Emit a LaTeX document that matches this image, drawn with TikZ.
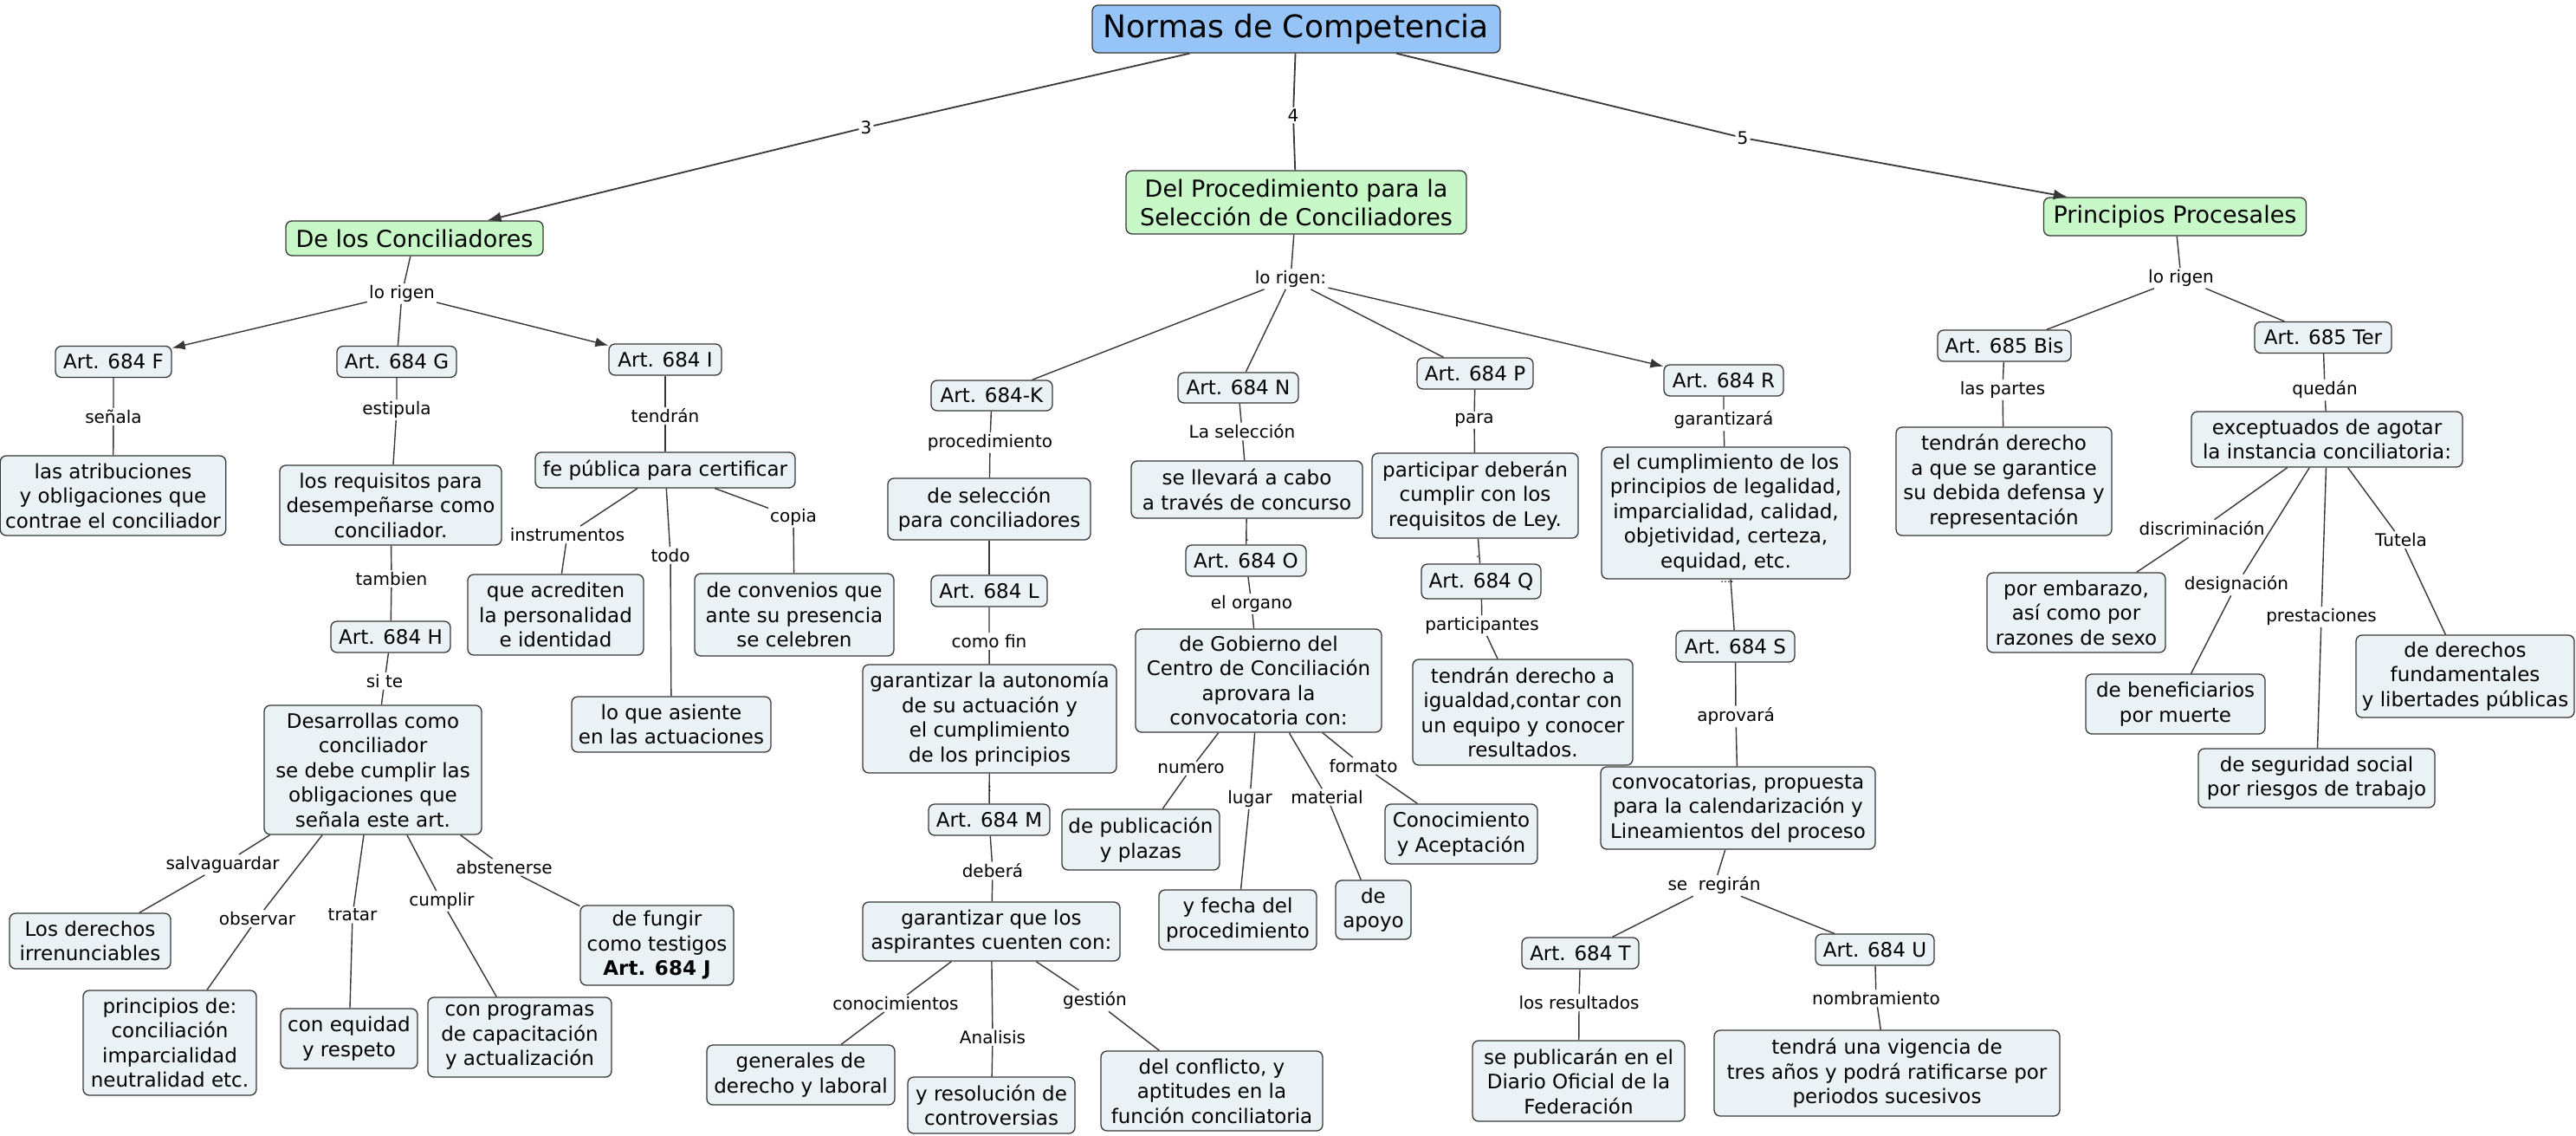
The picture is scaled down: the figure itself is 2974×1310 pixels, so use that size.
\documentclass[tikz,border=0pt]{standalone}
\usepackage{fontspec}
\setmainfont{DejaVu Sans}
\usetikzlibrary{arrows.meta}
\definecolor{cfill}{RGB}{234,242,245}
\definecolor{gfill}{RGB}{200,248,200}
\definecolor{tfill}{RGB}{150,196,246}
\definecolor{edgec}{RGB}{55,55,55}
\newcommand\cmBox{\fontsize{23}{28.5}\selectfont}
\newcommand\cmLvl{\fontsize{27}{33}\selectfont}
\newcommand\cmTtl{\fontsize{36}{42}\selectfont}
\newcommand\cmLbl{\fontsize{20}{24}\selectfont}
\begin{document}
\begin{tikzpicture}[x=1pt,y=-1pt,
 cbox/.style={draw=edgec, fill=cfill, rounded corners=7pt, line width=1.3pt, align=center, font=\cmBox, inner xsep=6pt, inner ysep=6pt},
 gbox/.style={cbox, fill=gfill, font=\cmLvl},
 tbox/.style={cbox, fill=tfill, font=\cmTtl},
 lbl/.style={font=\cmLbl, inner sep=2pt},
 dotl/.style={font=\fontsize{12}{12}\selectfont, inner sep=0pt},
 con/.style={draw=edgec, line width=1.4pt},
 tcon/.style={draw=edgec, line width=1.8pt},
 arr/.style={con, -{Latex[length=15pt,width=11pt]}},
 tarr/.style={tcon, -{Latex[length=16pt,width=12pt]}}]
\fill[white] (0,0) rectangle (2974,1310);
\useasboundingbox (0,0) rectangle (2974,1310);

% title and level 1
\node[tbox, minimum width=471pt, minimum height=55pt] (T) at (1496.5,33.5) {Normas de Competencia};
\node[gbox, minimum width=297pt, minimum height=40pt] (dlc) at (478.5,275) {De los Conciliadores};
\node[gbox, minimum width=393pt, minimum height=73pt] (dps) at (1496.5,233.5) {Del Procedimiento para la\\Selección de Conciliadores};
\node[gbox, minimum width=303pt, minimum height=44pt] (pp) at (2511,250) {Principios Procesales};
\node[lbl] (l3) at (1000,147) {3};
\node[lbl] (l4) at (1493,133) {4};
\node[lbl] (l5) at (2012,159) {5};

% left branch
\node[lbl] (rig1) at (464,339) {lo rigen};
\node[cbox, minimum width=134pt, minimum height=36pt] (aF) at (131,417.5) {Art. 684 F};
\node[cbox, minimum width=138pt, minimum height=36pt] (aG) at (458,417.5) {Art. 684 G};
\node[cbox, minimum width=130pt, minimum height=36pt] (aI) at (768,415) {Art. 684 I};
\node[lbl] (senala) at (131,481) {señala};
\node[cbox, minimum width=260pt, minimum height=92pt] (atrib) at (130.5,572) {las atribuciones\\y obligaciones que\\contrae el conciliador};
\node[lbl] (estip) at (458,473) {estipula};
\node[cbox, minimum width=256pt, minimum height=92pt] (req) at (451,583) {los requisitos para\\desempeñarse como\\conciliador.};
\node[lbl] (tamb) at (452,668) {tambien};
\node[cbox, minimum width=138pt, minimum height=36pt] (aH) at (451,735) {Art. 684 H};
\node[lbl] (site) at (444,786) {si te};
\node[cbox, minimum width=251pt, minimum height=149pt] (des) at (430.5,888.5) {Desarrollas como\\conciliador\\se debe cumplir las\\obligaciones que\\señala este art.};
\node[lbl] (salv) at (257,998) {salvaguardar};
\node[cbox, minimum width=186pt, minimum height=64pt] (lder) at (104,1086) {Los derechos\\irrenunciables};
\node[lbl] (obs) at (297,1060) {observar};
\node[cbox, minimum width=200pt, minimum height=121pt] (princ) at (196,1203.5) {principios de:\\conciliación\\imparcialidad\\neutralidad etc.};
\node[lbl] (trat) at (407,1056) {tratar};
\node[cbox, minimum width=158pt, minimum height=69pt] (equi) at (403,1198.5) {con equidad\\y respeto};
\node[lbl] (cump) at (510,1040) {cumplir};
\node[cbox, minimum width=212pt, minimum height=92pt] (prog) at (600,1197) {con programas\\de capacitación\\y actualización};
\node[lbl] (abst) at (582,1001) {abstenerse};
\node[cbox, minimum width=177pt, minimum height=92pt] (fung) at (758.5,1091) {de fungir\\como testigos\\\textbf{Art. 684 J}};
\node[lbl] (tendran) at (768,480) {tendrán};
\node[cbox, minimum width=300pt, minimum height=41pt] (fe) at (768,542.5) {fe pública para certificar};
\node[lbl] (instr) at (655,617) {instrumentos};
\node[cbox, minimum width=203pt, minimum height=93pt] (acred) at (641.5,709.5) {que acrediten\\la personalidad\\e identidad};
\node[lbl] (todo) at (774,641) {todo};
\node[cbox, minimum width=230pt, minimum height=64pt] (asiente) at (775,836) {lo que asiente\\en las actuaciones};
\node[lbl] (copia) at (916,597) {copia};
\node[cbox, minimum width=230pt, minimum height=95pt] (conv) at (917,709.5) {de convenios que\\ante su presencia\\se celebren};

% middle branch
\node[lbl] (rig2) at (1490,322) {lo rigen:};
\node[cbox, minimum width=140pt, minimum height=35pt] (aK) at (1145,456.5) {Art. 684-K};
\node[lbl] (proc) at (1143,511) {procedimiento};
\node[cbox, minimum width=234pt, minimum height=71pt] (sel) at (1142,587.5) {de selección\\para conciliadores};
\node[cbox, minimum width=134pt, minimum height=36pt] (aL) at (1142,682) {Art. 684 L};
\node[lbl] (comofin) at (1142,740) {como fin};
\node[cbox, minimum width=293pt, minimum height=125pt] (gauto) at (1142.5,829.5) {garantizar la autonomía\\de su actuación y\\el cumplimiento\\de los principios};
\node[cbox, minimum width=140pt, minimum height=36pt] (aM) at (1142,946) {Art. 684 M};
\node[lbl] (debera) at (1146,1005) {deberá};
\node[cbox, minimum width=297pt, minimum height=68pt] (gasp) at (1144.5,1075) {garantizar que los\\aspirantes cuenten con:};
\node[lbl] (conoc) at (1034,1158) {conocimientos};
\node[cbox, minimum width=217pt, minimum height=69pt] (gen) at (924.5,1240.5) {generales de\\derecho y laboral};
\node[lbl] (anal) at (1146,1197) {Analisis};
\node[cbox, minimum width=193pt, minimum height=65pt] (resol) at (1144.5,1275.5) {y resolución de\\controversias};
\node[lbl] (gest) at (1264,1155) {gestión};
\node[cbox, minimum width=256pt, minimum height=92pt] (confl) at (1399,1259) {del conflicto, y\\aptitudes en la\\función conciliatoria};

\node[cbox, minimum width=139pt, minimum height=35pt] (aN) at (1429.5,447.5) {Art. 684 N};
\node[lbl] (lasel) at (1434,498) {La selección};
\node[cbox, minimum width=267pt, minimum height=66pt] (llev) at (1439.5,565) {se llevará a cabo\\a través de concurso};
\node[cbox, minimum width=139pt, minimum height=36pt] (aO) at (1438.5,647) {Art. 684 O};
\node[lbl] (organo) at (1445,697) {el organo};
\node[cbox, minimum width=284pt, minimum height=119pt] (gob) at (1453,785.5) {de Gobierno del\\Centro de Conciliación\\aprovara la\\convocatoria con:};
\node[lbl] (numero) at (1375,887) {numero};
\node[cbox, minimum width=182pt, minimum height=70pt] (publ) at (1317,969) {de publicación\\y plazas};
\node[lbl] (lugar) at (1443,922) {lugar};
\node[cbox, minimum width=182pt, minimum height=69pt] (fecha) at (1429,1061.5) {y fecha del\\procedimiento};
\node[lbl] (material) at (1532,920) {material};
\node[cbox, minimum width=87pt, minimum height=68pt] (apoyo) at (1585.5,1050) {de\\apoyo};
\node[lbl] (formato) at (1574,884) {formato};
\node[cbox, minimum width=176pt, minimum height=69pt] (acept) at (1687,962.5) {Conocimiento\\y Aceptación};

\node[cbox, minimum width=134pt, minimum height=36pt] (aP) at (1703,431) {Art. 684 P};
\node[lbl] (para) at (1702,485) {para};
\node[cbox, minimum width=238pt, minimum height=98pt] (part) at (1703,572) {participar deberán\\cumplir con los\\requisitos de Ley.};
\node[cbox, minimum width=138pt, minimum height=40pt] (aQ) at (1710,671) {Art. 684 Q};
\node[lbl] (partic) at (1711,722) {participantes};
\node[cbox, minimum width=254pt, minimum height=122pt] (tder) at (1758,822) {tendrán derecho a\\igualdad,contar con\\un equipo y conocer\\resultados.};

\node[cbox, minimum width=138pt, minimum height=36pt] (aR) at (1990,439) {Art. 684 R};
\node[lbl] (garant) at (1990,485) {garantizará};
\node[cbox, minimum width=287pt, minimum height=152pt] (cumpl) at (1992.5,592) {el cumplimiento de los\\principios de legalidad,\\imparcialidad, calidad,\\objetividad, certeza,\\equidad, etc.};
\node[cbox, minimum width=137pt, minimum height=36pt] (aS) at (2003.5,746) {Art. 684 S};
\node[lbl] (aprov) at (2004,827) {aprovará};
\node[cbox, minimum width=317pt, minimum height=95pt] (convoc) at (2006.5,932.5) {convocatorias, propuesta\\para la calendarización y\\Lineamientos del proceso};
\node[lbl] (regir) at (1979,1022) {se~~regirán};
\node[cbox, minimum width=135pt, minimum height=36pt] (aT) at (1824.5,1100) {Art. 684 T};
\node[lbl] (losres) at (1823,1157) {los resultados};
\node[cbox, minimum width=245pt, minimum height=93pt] (publica) at (1822.5,1247.5) {se publicarán en el\\Diario Oficial de la\\Federación};
\node[cbox, minimum width=137pt, minimum height=36pt] (aU) at (2164.5,1096) {Art. 684 U};
\node[lbl] (nomb) at (2166,1152) {nombramiento};
\node[cbox, minimum width=399pt, minimum height=99pt] (vig) at (2178.5,1238.5) {tendrá una vigencia de\\tres años y podrá ratificarse por\\periodos sucesivos};

% right branch
\node[lbl] (rig3) at (2518,321) {lo rigen};
\node[cbox, minimum width=154pt, minimum height=36pt] (aBis) at (2314,399) {Art. 685 Bis};
\node[lbl] (partes) at (2312,450) {las partes};
\node[cbox, minimum width=249pt, minimum height=125pt] (tdef) at (2313.5,555.5) {tendrán derecho\\a que se garantice\\su debida defensa y\\representación};
\node[cbox, minimum width=158pt, minimum height=36pt] (aTer) at (2682,389.5) {Art. 685 Ter};
\node[lbl] (quedan) at (2684,450) {quedán};
\node[cbox, minimum width=313pt, minimum height=64pt] (excep) at (2686.5,507) {exceptuados de agotar\\la instancia conciliatoria:};
\node[lbl] (discr) at (2542,610) {discriminación};
\node[cbox, minimum width=206pt, minimum height=92pt] (emb) at (2397,707) {por embarazo,\\así como por\\razones de sexo};
\node[lbl] (desig) at (2582,675) {designación};
\node[cbox, minimum width=207pt, minimum height=69pt] (benef) at (2511.5,812.5) {de beneficiarios\\por muerte};
\node[lbl] (prest) at (2680,712) {prestaciones};
\node[cbox, minimum width=273pt, minimum height=68pt] (segur) at (2674.5,898) {de seguridad social\\por riesgos de trabajo};
\node[lbl] (tutela) at (2772,623) {Tutela};
\node[cbox, minimum width=252pt, minimum height=95pt] (fund) at (2846,780.5) {de derechos\\fundamentales\\y libertades públicas};

% connectors
\draw[tcon] (T) -- (l3); \draw[tarr] (l3) -- (dlc);
\draw[tcon] (T) -- (l4) -- (dps);
\draw[tcon] (T) -- (l5); \draw[tarr] (l5) -- (pp);

\draw[con] (dlc) -- (rig1) -- (aG);
\draw[arr] (rig1) -- (aF);
\draw[arr] (rig1) -- (aI);
\draw[con] (aF) -- (senala) -- (atrib);
\draw[con] (aG) -- (estip) -- (req);
\draw[con] (req) -- (tamb) -- (aH);
\draw[con] (aH) -- (site) -- (des);
\draw[con] (des) -- (salv) -- (lder);
\draw[con] (des) -- (obs) -- (princ);
\draw[con] (des) -- (trat) -- (equi);
\draw[con] (des) -- (cump) -- (prog);
\draw[con] (des) -- (abst) -- (fung);
\draw[con] (aI) -- (tendran) -- (fe);
\draw[con] (fe) -- (instr) -- (acred);
\draw[con] (fe) -- (todo) -- (asiente);
\draw[con] (fe) -- (copia) -- (conv);

\draw[con] (dps) -- (rig2);
\draw[con] (rig2) -- (aK);
\draw[con] (rig2) -- (aN);
\draw[con] (rig2) -- (aP);
\draw[arr] (rig2) -- (aR);
\draw[con] (aK) -- (proc) -- (sel);
\draw[con] (sel) -- (aL);
\draw[con] (aL) -- (comofin) -- (gauto);
\draw[con] (gauto) -- (aM);
\draw[con] (aM) -- (debera) -- (gasp);
\draw[con] (gasp) -- (conoc) -- (gen);
\draw[con] (gasp) -- (anal) -- (resol);
\draw[con] (gasp) -- (gest) -- (confl);
\draw[con] (aN) -- (lasel) -- (llev);
\draw[con] (llev) -- (aO);
\draw[con] (aO) -- (organo) -- (gob);
\draw[con] (gob) -- (numero) -- (publ);
\draw[con] (gob) -- (lugar) -- (fecha);
\draw[con] (gob) -- (material) -- (apoyo);
\draw[con] (gob) -- (formato) -- (acept);
\draw[con] (aP) -- (para) -- (part);
\draw[con] (part) -- (aQ);
\draw[con] (aQ) -- (partic) -- (tder);
\draw[con] (aR) -- (garant) -- (cumpl);
\draw[con] (cumpl) -- (aS);
\draw[con] (aS) -- (aprov) -- (convoc);
\draw[con] (convoc) -- (regir);
\draw[con] (regir) -- (aT);
\draw[con] (regir) -- (aU);
\draw[con] (aT) -- (losres) -- (publica);
\draw[con] (aU) -- (nomb) -- (vig);

\draw[con] (pp) -- (rig3);
\draw[con] (rig3) -- (aBis);
\draw[con] (rig3) -- (aTer);
\draw[con] (aBis) -- (partes) -- (tdef);
\draw[con] (aTer) -- (quedan) -- (excep);
\draw[con] (excep) -- (discr) -- (emb);
\draw[con] (excep) -- (desig) -- (benef);
\draw[con] (excep) -- (prest) -- (segur);
\draw[con] (excep) -- (tutela) -- (fund);

% tiny empty link marks
\node[dotl] (d1) at (1143,910) {:};
\node[dotl] (d2) at (1440,624) {.};
\node[dotl] (d3) at (1706,643) {.};
\node[dotl] (d4) at (1994,672) {....};
\end{tikzpicture}
\end{document}
